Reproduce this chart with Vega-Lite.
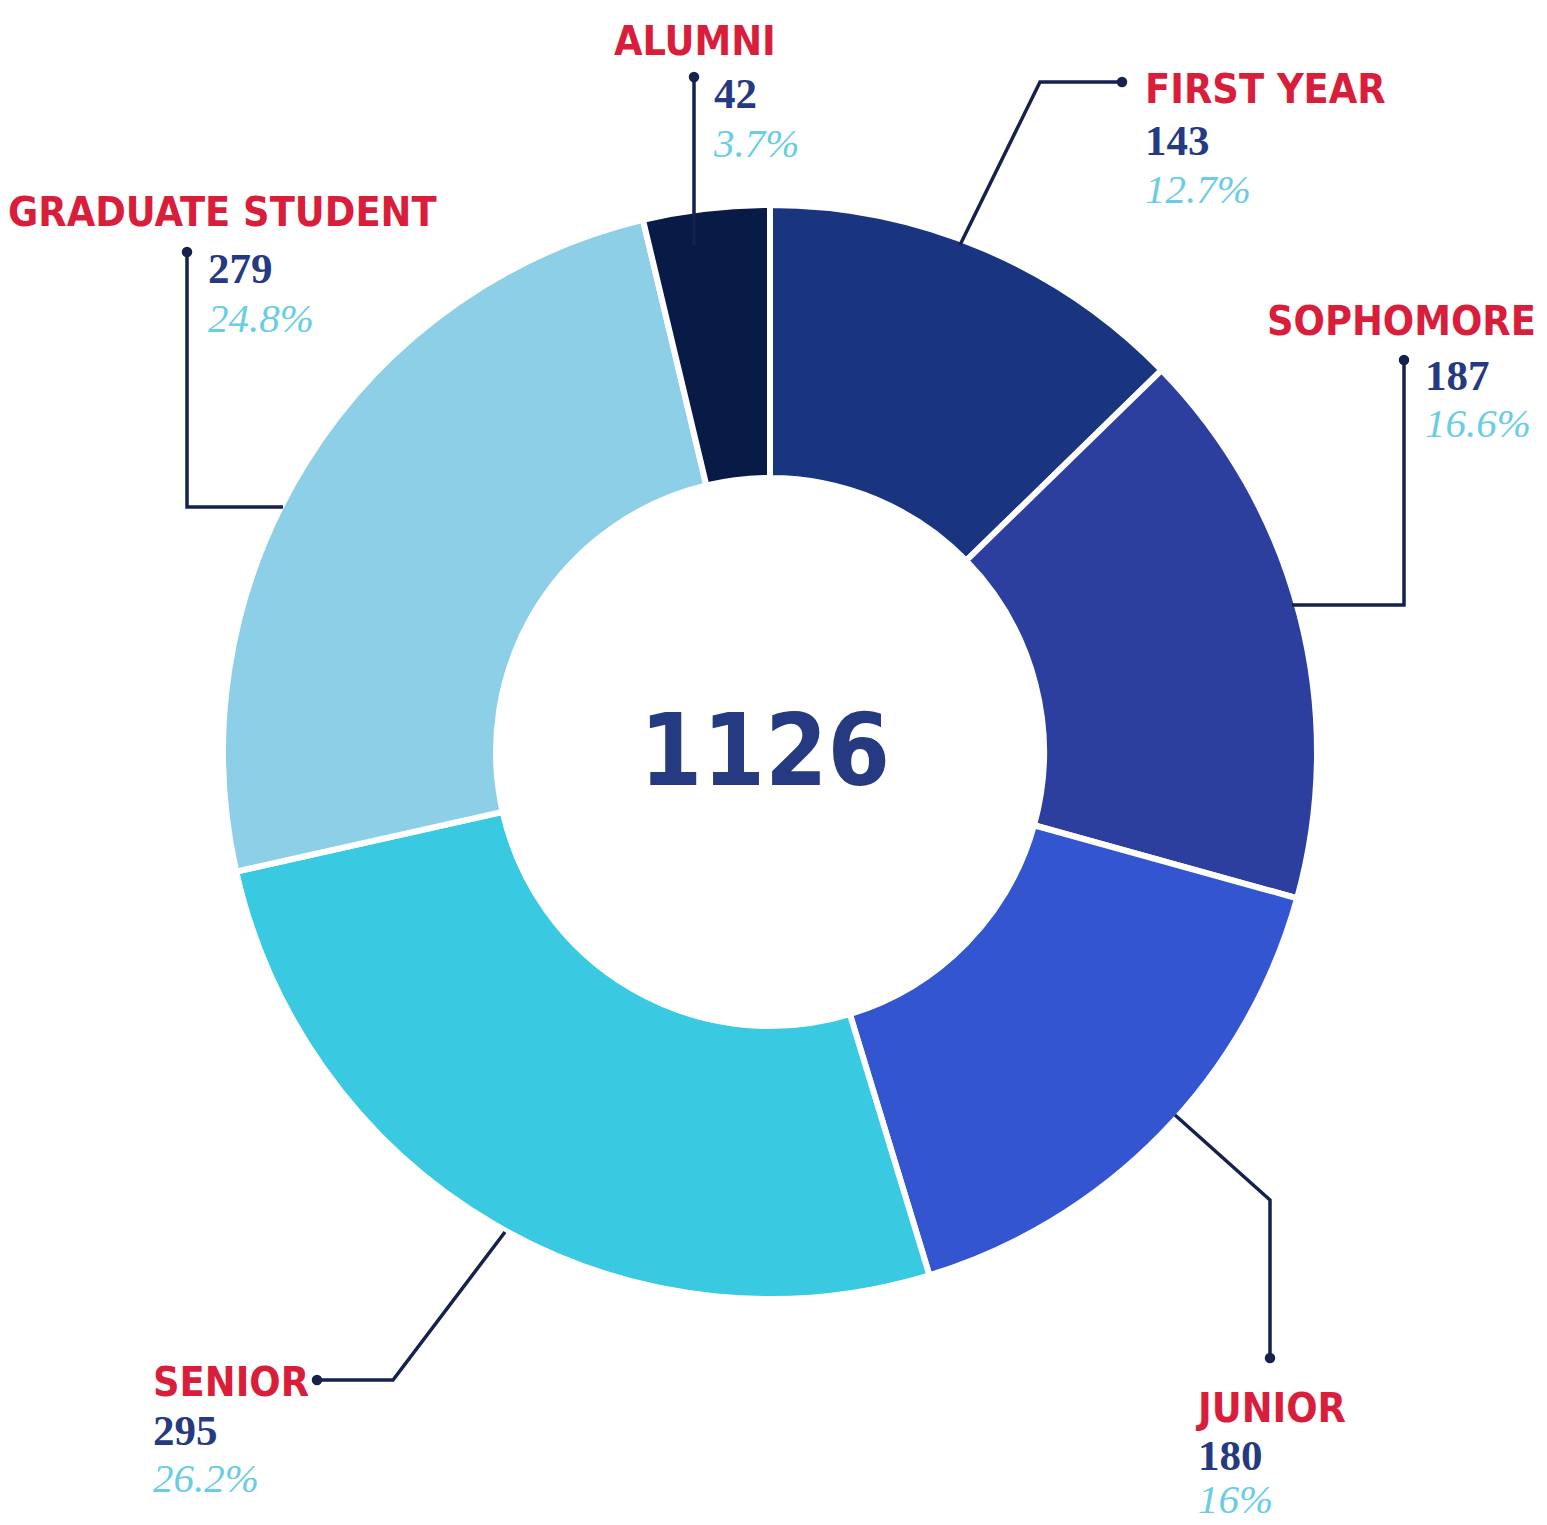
{
  "$schema": "https://vega.github.io/schema/vega-lite/v6.json",
  "width": 1547,
  "height": 1525,
  "autosize": "none",
  "padding": 0,
  "background": "white",
  "config": {"view": {"stroke": null}},
  "datasets": {
    "segments": [
      {"idx": 1, "category": "First Year", "name": "FIRST YEAR", "count": 143, "pct": "12.7%", "nameX": 375, "nameY": -649, "valX": 375, "valY": -597, "pctY": -549},
      {"idx": 2, "category": "Sophomore", "name": "SOPHOMORE", "count": 187, "pct": "16.6%", "nameX": 497, "nameY": -417, "valX": 655, "valY": -362, "pctY": -315},
      {"idx": 3, "category": "Junior", "name": "JUNIOR", "count": 180, "pct": "16%", "nameX": 428, "nameY": 670, "valX": 428, "valY": 718, "pctY": 761},
      {"idx": 4, "category": "Senior", "name": "SENIOR", "count": 295, "pct": "26.2%", "nameX": -617, "nameY": 644, "valX": -617, "valY": 693, "pctY": 740},
      {"idx": 5, "category": "Graduate Student", "name": "GRADUATE STUDENT", "count": 279, "pct": "24.8%", "nameX": -762, "nameY": -526, "valX": -562, "valY": -469, "pctY": -420},
      {"idx": 6, "category": "Alumni", "name": "ALUMNI", "count": 42, "pct": "3.7%", "nameX": -156, "nameY": -697, "valX": -56, "valY": -644, "pctY": -595}
    ],
    "leaders": [
      {"id": "Alumni", "seq": 0, "x": -76, "y": -675},
      {"id": "Alumni", "seq": 1, "x": -76, "y": -507},
      {"id": "First Year", "seq": 0, "x": 352, "y": -670},
      {"id": "First Year", "seq": 1, "x": 270, "y": -670},
      {"id": "First Year", "seq": 2, "x": 190, "y": -507},
      {"id": "Sophomore", "seq": 0, "x": 634, "y": -392},
      {"id": "Sophomore", "seq": 1, "x": 634, "y": -147},
      {"id": "Sophomore", "seq": 2, "x": 522, "y": -147},
      {"id": "Junior", "seq": 0, "x": 405, "y": 363},
      {"id": "Junior", "seq": 1, "x": 500, "y": 448},
      {"id": "Junior", "seq": 2, "x": 500, "y": 606},
      {"id": "Senior", "seq": 0, "x": -265, "y": 480},
      {"id": "Senior", "seq": 1, "x": -377, "y": 628},
      {"id": "Senior", "seq": 2, "x": -453, "y": 628},
      {"id": "Graduate Student", "seq": 0, "x": -583, "y": -500},
      {"id": "Graduate Student", "seq": 1, "x": -583, "y": -245},
      {"id": "Graduate Student", "seq": 2, "x": -487, "y": -245}
    ],
    "dots": [
      {"id": "Alumni", "x": -76, "y": -675},
      {"id": "First Year", "x": 352, "y": -670},
      {"id": "Sophomore", "x": 634, "y": -392},
      {"id": "Junior", "x": 500, "y": 606},
      {"id": "Senior", "x": -453, "y": 628},
      {"id": "Graduate Student", "x": -583, "y": -500}
    ]
  },
  "layer": [
    {
      "data": {"name": "segments"},
      "mark": {"type": "arc", "innerRadius": 274, "outerRadius": 547, "stroke": "white", "strokeWidth": 6},
      "encoding": {
        "x": {"datum": 0, "type": "quantitative", "axis": null, "scale": {"domain": [-770, 777], "nice": false, "zero": false}},
        "y": {"datum": 0, "type": "quantitative", "axis": null, "scale": {"domain": [-752, 773], "reverse": true, "nice": false, "zero": false}},
        "theta": {"field": "count", "type": "quantitative", "stack": true},
        "order": {"field": "idx", "type": "quantitative"},
        "color": {
          "field": "category",
          "type": "nominal",
          "legend": null,
          "scale": {
            "domain": ["First Year", "Sophomore", "Junior", "Senior", "Graduate Student", "Alumni"],
            "range": ["#1a3580", "#2c3f9e", "#3355cf", "#39cae2", "#8ecfe8", "#081a46"]
          }
        }
      }
    },
    {
      "data": {"name": "leaders"},
      "mark": {"type": "line", "color": "#16214d", "strokeWidth": 3.5, "strokeJoin": "miter"},
      "encoding": {
        "x": {"field": "x", "type": "quantitative", "axis": null, "scale": {"domain": [-770, 777], "nice": false, "zero": false}},
        "y": {"field": "y", "type": "quantitative", "axis": null, "scale": {"domain": [-752, 773], "reverse": true, "nice": false, "zero": false}},
        "detail": {"field": "id"},
        "order": {"field": "seq", "type": "quantitative"}
      }
    },
    {
      "data": {"name": "dots"},
      "mark": {"type": "point", "filled": true, "shape": "circle", "size": 110, "color": "#16214d", "opacity": 1},
      "encoding": {
        "x": {"field": "x", "type": "quantitative", "axis": null, "scale": {"domain": [-770, 777], "nice": false, "zero": false}},
        "y": {"field": "y", "type": "quantitative", "axis": null, "scale": {"domain": [-752, 773], "reverse": true, "nice": false, "zero": false}}
      }
    },
    {
      "data": {"name": "segments"},
      "mark": {"type": "text", "align": "left", "baseline": "alphabetic", "font": "DejaVu Sans Condensed, DejaVu Sans, sans-serif", "fontWeight": "bold", "fontSize": 41, "color": "#d91e3b"},
      "encoding": {
        "x": {"field": "nameX", "type": "quantitative", "axis": null, "scale": {"domain": [-770, 777], "nice": false, "zero": false}},
        "y": {"field": "nameY", "type": "quantitative", "axis": null, "scale": {"domain": [-752, 773], "reverse": true, "nice": false, "zero": false}},
        "text": {"field": "name"}
      }
    },
    {
      "data": {"name": "segments"},
      "mark": {"type": "text", "align": "left", "baseline": "alphabetic", "font": "Liberation Serif", "fontWeight": "bold", "fontSize": 43, "color": "#253a80"},
      "encoding": {
        "x": {"field": "valX", "type": "quantitative", "axis": null, "scale": {"domain": [-770, 777], "nice": false, "zero": false}},
        "y": {"field": "valY", "type": "quantitative", "axis": null, "scale": {"domain": [-752, 773], "reverse": true, "nice": false, "zero": false}},
        "text": {"field": "count"}
      }
    },
    {
      "data": {"name": "segments"},
      "mark": {"type": "text", "align": "left", "baseline": "alphabetic", "font": "Liberation Serif", "fontStyle": "italic", "fontSize": 41, "color": "#6bcde3"},
      "encoding": {
        "x": {"field": "valX", "type": "quantitative", "axis": null, "scale": {"domain": [-770, 777], "nice": false, "zero": false}},
        "y": {"field": "pctY", "type": "quantitative", "axis": null, "scale": {"domain": [-752, 773], "reverse": true, "nice": false, "zero": false}},
        "text": {"field": "pct"}
      }
    },
    {
      "data": {"name": "segments"},
      "transform": [{"aggregate": [{"op": "sum", "field": "count", "as": "total"}]}],
      "mark": {"type": "text", "align": "center", "baseline": "alphabetic", "dx": -5, "dy": 33, "font": "DejaVu Sans Condensed, DejaVu Sans, sans-serif", "fontWeight": "bold", "fontSize": 100, "color": "#253a80"},
      "encoding": {
        "x": {"datum": 0, "type": "quantitative", "axis": null, "scale": {"domain": [-770, 777], "nice": false, "zero": false}},
        "y": {"datum": 0, "type": "quantitative", "axis": null, "scale": {"domain": [-752, 773], "reverse": true, "nice": false, "zero": false}},
        "text": {"field": "total", "type": "quantitative"}
      }
    }
  ]
}
